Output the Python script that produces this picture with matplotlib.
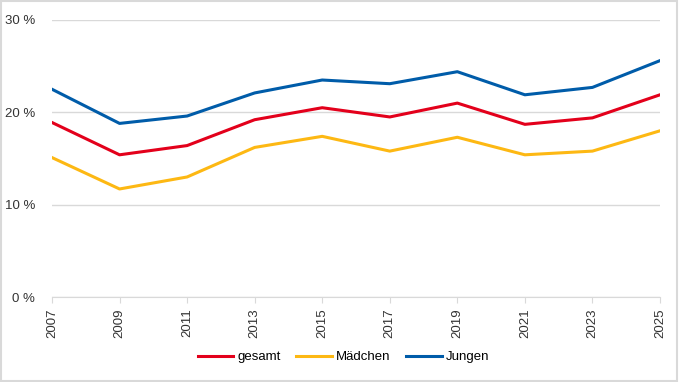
import matplotlib
matplotlib.use("Agg")
import matplotlib.pyplot as plt
from matplotlib.patches import Rectangle

plt.rcParams['font.family'] = ['Liberation Sans', 'DejaVu Sans']

years = ['2007', '2009', '2011', '2013', '2015', '2017', '2019', '2021', '2023', '2025']
gesamt = [18.9, 15.4, 16.4, 19.2, 20.5, 19.5, 21.0, 18.7, 19.4, 21.9]
maedchen = [15.1, 11.7, 13.0, 16.2, 17.4, 15.8, 17.3, 15.4, 15.8, 18.0]
jungen = [22.5, 18.8, 19.6, 22.1, 23.5, 23.1, 24.4, 21.9, 22.7, 25.6]
yticks = [0, 10, 20, 30]
ytick_labels = ['0 %', '10 %', '20 %', '30 %']

fig = plt.figure(figsize=(6.8, 3.82), dpi=100)
ax = fig.add_axes([52/680, 1 - 297/382, 608/680, 277/382])

x = range(len(years))
ax.plot(x, gesamt, color='#E3001B', lw=2.2, label='gesamt')
ax.plot(x, maedchen, color='#FDB813', lw=2.2, label='Mädchen')
ax.plot(x, jungen, color='#005CA9', lw=2.2, label='Jungen')

ax.set_xlim(0, len(years) - 1)
ax.set_ylim(0, 30)
ax.set_yticks(yticks)
ax.set_yticklabels(ytick_labels, fontsize=9.5, color='#333333')
ax.set_xticks(list(x))
ax.set_xticklabels(years, rotation=90, fontsize=9.5, color='#333333')
ax.grid(axis='y', color='#d9d9d9', lw=1)
ax.set_axisbelow(True)
for s in ['top', 'right', 'left']:
    ax.spines[s].set_visible(False)
ax.spines['bottom'].set_color('#d9d9d9')
ax.tick_params(axis='y', length=0, pad=12)
ax.tick_params(axis='x', length=4, color='#d9d9d9', pad=4)

fig.legend(loc='center', bbox_to_anchor=(0.505, 1 - 357/382), ncol=3, frameon=False,
           fontsize=9.5, handlelength=2.7, columnspacing=1.2, handletextpad=0.3)

fig.patches.append(Rectangle((0.002, 0.003), 0.994, 0.994, transform=fig.transFigure,
                             fill=False, edgecolor='#d9d9d9', lw=1.5))

fig.savefig('out.png', dpi=100)
